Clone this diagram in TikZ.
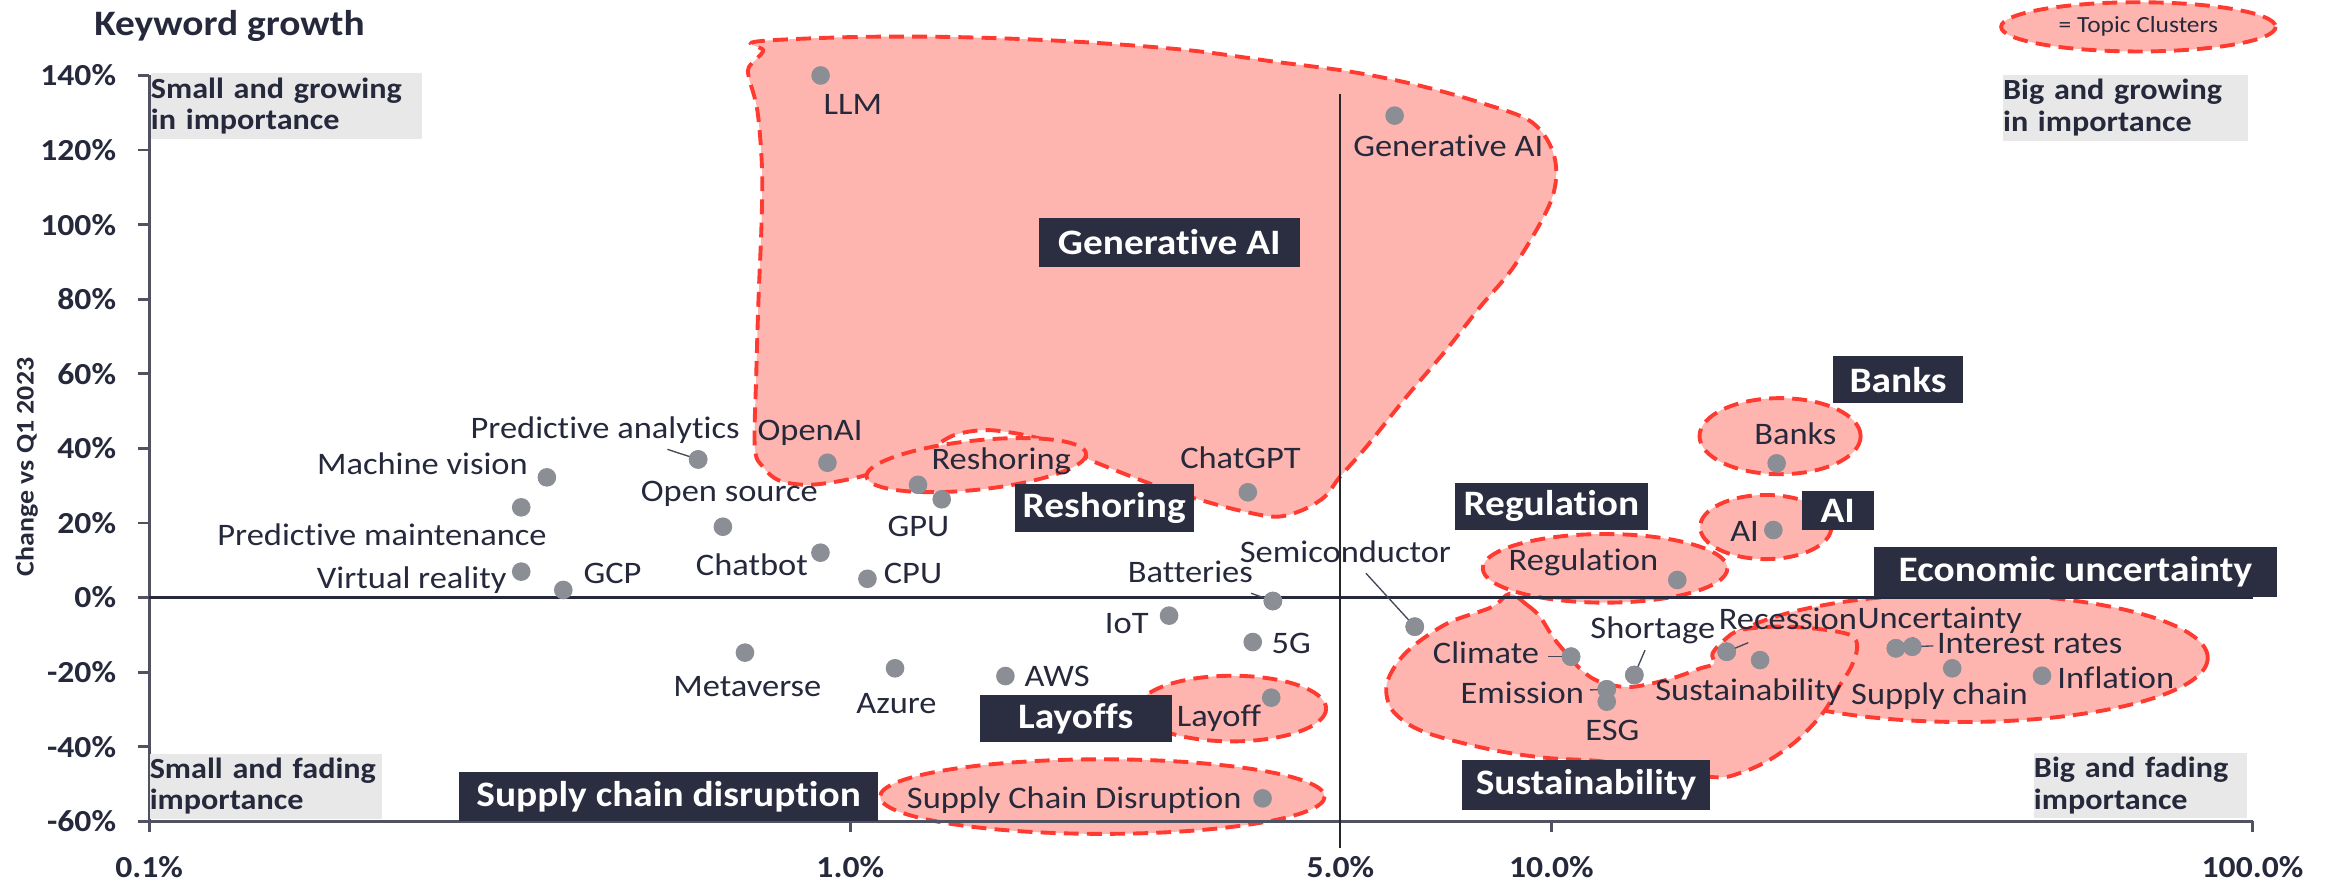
\documentclass[tikz,border=0pt]{standalone}
\usepackage{fontspec}
\setmainfont{Carlito}[FakeStretch=1.1, Ligatures=NoCommon]

\definecolor{ink}{RGB}{38,41,59}
\definecolor{boxnavy}{RGB}{43,46,64}
\definecolor{clusterfill}{RGB}{255,181,175}
\definecolor{clusterline}{RGB}{255,58,48}
\definecolor{dotgray}{RGB}{140,142,150}
\definecolor{quadgray}{RGB}{232,232,232}
\definecolor{axisgray}{RGB}{80,82,98}
\definecolor{leadergray}{RGB}{70,72,88}

\begin{document}
\begin{tikzpicture}[x=1pt,y=-1pt,
  cluster/.style={fill=clusterfill, draw=clusterline, line width=2.6pt,
                  dash pattern=on 10pt off 5.5pt},
  pt/.style={circle, fill=dotgray, inner sep=0pt, minimum size=12.5pt},
  lbl/.style={inner sep=0pt, text=ink, font=\fontsize{21}{25}\selectfont},
  topic/.style={fill=boxnavy, text=white, inner sep=0pt,
                font=\fontsize{24}{28}\selectfont\bfseries},
  quadbox/.style={fill=quadgray, text=ink, inner sep=0pt, align=left,
                  font=\fontsize{19.6}{21.2}\selectfont\bfseries},
  ticklbl/.style={inner sep=0pt, text=ink, font=\fontsize{20.5}{24}\selectfont\bfseries},
  axisline/.style={draw=axisgray, line width=1.8pt},
  leader/.style={draw=leadergray, line width=0.9pt}
]
\useasboundingbox (0,0) rectangle (1568,591);

% ---------- topic clusters ----------
\draw[cluster] plot[smooth cycle, tension=0.55] coordinates {
  (506,28) (565,25) (623,24.6) (680,26) (738.6,29) (800,34) (854,41.3)
  (905,48) (950,57) (993,69) (1027,82) (1042,105) (1040,134) (1016,177)
  (992,206) (969.5,234.6) (942,267) (916,299.5) (898,320) (888,333)
  (873,342) (855,346.4) (830,342) (804,335) (783,328.5) (765,322)
  (742,313) (728,307) (720,301) (701,295) (681,290.5) (660,288.3)
  (640,291.6) (624,300.5) (604,310.6) (581,318.4) (560,323) (540,325)
  (522,322) (511.5,313) (506,300) (507,250) (508.5,200) (510.5,150)
  (510.8,112) (507.7,74) (502,52) (502,45) (507.7,39) (511.6,33.5)};
\draw[cluster, rotate around={6:(654.5,311.8)}] (654.5,311.8) ellipse [x radius=74, y radius=16.5];
\draw[cluster] (826,475) ellipse [x radius=63, y radius=22];
\draw[cluster] (739,534) ellipse [x radius=149, y radius=25];
\draw[cluster] (1193.3,292.4) ellipse [x radius=54, y radius=25.5];
\draw[cluster] (1183.7,353.3) ellipse [x radius=44, y radius=21.5];
\draw[cluster] (1316,441) ellipse [x radius=164, y radius=43];
\draw[cluster] plot[smooth cycle, tension=0.55] coordinates {
  (1012,398) (1023,405) (1032,413) (1041,427) (1050,438) (1059,448)
  (1068,455) (1079,459) (1095,460.4) (1120,455) (1140,448) (1149,445)
  (1148,438) (1156,429) (1167,422.3) (1194,420) (1222,422) (1241,426)
  (1245,434) (1241,447) (1233,460) (1222,478) (1205,496) (1186,509.5)
  (1167,518) (1149,521) (1100,514) (1070,510) (1036,508) (1002,503)
  (965,494) (945,486) (932,474) (930,457) (943,437) (970,418) (1000,407)};
\draw[cluster] (1076,381) ellipse [x radius=82, y radius=23];

% legend
\draw[cluster] (1433.5,18) ellipse [x radius=92, y radius=16.5];
\node[inner sep=0pt, text=ink, font=\fontsize{15.5}{18}\selectfont] (legend) at (1433.5,17.5) {= Topic Clusters};

% ---------- axes ----------
\draw[axisline] (100,50.6) -- (100,557.5);
\draw[axisline] (100,550.6) -- (1510,550.6);
\foreach \xx in {570,1040,1510} \draw[axisline] (\xx,550.6) -- (\xx,557.5);
\draw[draw=ink, line width=1.6pt] (100,400.6) -- (1510,400.6);
\draw[draw=black!85, line width=1.4pt] (898.5,63) -- (898.5,568.5);

\foreach \v [count=\i] in {140,120,100,80,60,40,20,0,-20,-40,-60} {
  \pgfmathsetmacro\yy{400.6-2.5*\v}
  \draw[axisline] (92.5,\yy) -- (100,\yy);
  \node[ticklbl, anchor=east] (yt\i) at (78,\yy) {\v\%};
}
\node[ticklbl] (xt1) at (100,581) {0.1\%};
\node[ticklbl] (xt2) at (570,581) {1.0\%};
\node[ticklbl] (xt3) at (898.5,581) {5.0\%};
\node[ticklbl] (xt4) at (1040,581) {10.0\%};
\node[ticklbl] (xt5) at (1510,581) {100.0\%};

\node[inner sep=0pt, text=ink, rotate=90, font=\fontsize{17}{20}\selectfont\bfseries] (ytitle) at (18,313) {Change vs Q1 2023};
\node[inner sep=0pt, text=ink, anchor=base west, font=\fontsize{24}{28}\selectfont\bfseries] (title) at (63,23.5) {Keyword growth};

% ---------- quadrant captions ----------
\node[quadbox, anchor=north west, text width=182pt, minimum height=44pt] (qsg) at (101,49) {Small and growing\\in importance};
\node[quadbox, anchor=north west, text width=164pt, minimum height=44pt] (qbg) at (1342.6,50) {Big and growing\\in importance};
\node[quadbox, anchor=north west, text width=155.5pt, minimum height=43.5pt] (qsf) at (100.2,505) {Small and fading\\importance};
\node[quadbox, anchor=north west, text width=143pt, minimum height=43.5pt] (qbf) at (1363.3,504.6) {Big and fading\\importance};

% ---------- data points ----------
\node[pt] (llm) at (550.1,50.6) {};
\node[pt] (genai) at (934.9,77.5) {};
\node[pt] (pa) at (468,308) {};
\node[pt] (openai) at (554.7,310.2) {};
\node[pt] (mv) at (366.6,320) {};
\node[pt] (pm) at (349.4,340.1) {};
\node[pt] (vr) at (349.4,383.2) {};
\node[pt] (gcp) at (377.6,395.5) {};
\node[pt] (os) at (484.6,353.1) {};
\node[pt] (chatbot) at (550,370.5) {};
\node[pt] (cpu) at (581.5,388) {};
\node[pt] (resh) at (615.4,325) {};
\node[pt] (gpu) at (631.3,334.7) {};
\node[pt] (chatgpt) at (836.5,330) {};
\node[pt] (bat) at (853.3,402.9) {};
\node[pt] (semi) at (948.4,420.1) {};
\node[pt] (iot) at (783.7,412.7) {};
\node[pt] (fiveg) at (839.8,430.4) {};
\node[pt] (meta) at (499.4,437.5) {};
\node[pt] (azure) at (600,448) {};
\node[pt] (aws) at (674,453.2) {};
\node[pt] (layoff) at (852.2,467.7) {};
\node[pt] (scd) at (846.4,535.2) {};
\node[pt] (reg) at (1124.4,388.8) {};
\node[pt] (clim) at (1053.2,440.2) {};
\node[pt] (emis) at (1077.1,462.1) {};
\node[pt] (esg) at (1077.1,470.4) {};
\node[pt] (short) at (1095.6,452.5) {};
\node[pt] (rec) at (1157.5,436.9) {};
\node[pt] (sust) at (1179.9,442.5) {};
\node[pt] (unc) at (1270.9,434.6) {};
\node[pt] (intr) at (1281.9,433.5) {};
\node[pt] (supc) at (1308.7,448) {};
\node[pt] (infl) at (1368.9,453) {};
\node[pt] (banks) at (1191,310.6) {};
\node[pt] (ai) at (1188.8,355.3) {};

% ---------- leader lines ----------
\coordinate (paL) at (447.4,301.2);
\coordinate (batL) at (838.7,397.7);
\coordinate (semiL) at (915.7,384.3);
\coordinate (climL) at (1038,440.2);
\coordinate (emisL) at (1066,462.5);
\coordinate (shortL) at (1102.8,435.8);
\coordinate (recL) at (1172,430.8);
\coordinate (uncL) at (1283,427.5);
\coordinate (intrL) at (1296,433);
\draw[leader] (paL) -- (pa.center);
\draw[leader] (batL) -- (bat.center);
\draw[leader] (semiL) -- (semi.center);
\draw[leader] (climL) -- (clim.center);
\draw[leader] (emisL) -- (emis.center);
\draw[leader] (shortL) -- (short.center);
\draw[leader] (recL) -- (rec.center);
\draw[leader] (uncL) -- (unc.center);
\draw[leader] (intrL) -- (intr.center);
% dots again over the leader ends
\foreach \d in {pa,bat,semi,clim,emis,short,rec,unc,intr}
  \fill[dotgray] (\d.center) circle[radius=6.25pt];

% ---------- data labels ----------
\node[lbl, anchor=base west] (tllm) at (552,77) {LLM};
\node[lbl, anchor=base west] (tgenai) at (907,104.6) {Generative AI};
\node[lbl, anchor=base east] (tpa) at (496,294) {Predictive analytics};
\node[lbl, anchor=base west] (topenai) at (507.7,295) {OpenAI};
\node[lbl, anchor=base east] (tmv) at (354,318) {Machine vision};
\node[lbl, anchor=base east] (tpm) at (366.6,365.4) {Predictive maintenance};
\node[lbl, anchor=base east] (tvr) at (339.7,394.4) {Virtual reality};
\node[lbl, anchor=base west] (tgcp) at (391,391) {GCP};
\node[lbl, anchor=base west] (tos) at (429.4,336.3) {Open source};
\node[lbl, anchor=base east] (tchatbot) at (541.8,385.5) {Chatbot};
\node[lbl, anchor=base west] (tcpu) at (592.3,391) {CPU};
\node[lbl, anchor=base west] (tresh) at (624.3,315) {Reshoring};
\node[lbl, anchor=base west] (tgpu) at (594.8,359.8) {GPU};
\node[lbl, anchor=base west] (tchatgpt) at (791,314) {ChatGPT};
\node[lbl, anchor=base east] (tbat) at (840,390.6) {Batteries};
\node[lbl, anchor=base west] (tsemi) at (831,377) {Semiconductor};
\node[lbl, anchor=base east] (tiot) at (770.2,424.6) {IoT};
\node[lbl, anchor=base west] (tfiveg) at (852.2,438) {5G};
\node[lbl, anchor=base west] (tmeta) at (451.2,467) {Metaverse};
\node[lbl, anchor=base west] (tazure) at (573.9,478.2) {Azure};
\node[lbl, anchor=base west] (taws) at (686.7,460.3) {AWS};
\node[lbl, anchor=base west] (tlayoff) at (788.7,487.1) {Layoff};
\node[lbl, anchor=base west] (tscd) at (607.8,541.9) {Supply Chain Disruption};
\node[lbl, anchor=base west] (treg) at (1011.2,382.6) {Regulation};
\node[lbl, anchor=base east] (tclim) at (1032,444.7) {Climate};
\node[lbl, anchor=base east] (temis) at (1062,471.5) {Emission};
\node[lbl, anchor=base west] (tesg) at (1062.6,496.1) {ESG};
\node[lbl, anchor=base west] (tshort) at (1066,428) {Shortage};
\node[lbl, anchor=base west] (trec) at (1152,422.3) {Recession};
\node[lbl, anchor=base west] (tsust) at (1109.5,469.3) {Sustainability};
\node[lbl, anchor=base west] (tunc) at (1245,421) {Uncertainty};
\node[lbl, anchor=base west] (tintr) at (1298.3,438) {Interest rates};
\node[lbl, anchor=base west] (tsupc) at (1240.8,472.6) {Supply chain};
\node[lbl, anchor=base west] (tinfl) at (1379,461.4) {Inflation};
\node[lbl, anchor=base west] (tbanks) at (1175.8,297.9) {Banks};
\node[lbl, anchor=base west] (tai) at (1159.7,363.1) {AI};

% ---------- cluster titles ----------
\node[topic, minimum width=175.1pt, minimum height=32.4pt] (bgenai) at (783.9,162.6) {Generative AI};
\node[topic, minimum width=119.8pt, minimum height=31.7pt] (bresh) at (740.2,340.5) {Reshoring};
\node[topic, minimum width=129.1pt, minimum height=31.7pt] (breg) at (1040,339.5) {Regulation};
\node[topic, minimum width=87.5pt, minimum height=31.7pt] (bbanks) at (1272.4,254.6) {Banks};
\node[topic, minimum width=48.5pt, minimum height=26.4pt] (bai) at (1232,342.2) {AI};
\node[topic, minimum width=269.6pt, minimum height=33.5pt] (becon) at (1391.3,383.3) {Economic uncertainty};
\node[topic, minimum width=128.8pt, minimum height=31.3pt] (blayoffs) at (721.1,481.6) {Layoffs};
\node[topic, minimum width=280.8pt, minimum height=33.2pt] (bscd) at (448.2,533.9) {Supply chain disruption};
\node[topic, minimum width=166.5pt, minimum height=33.5pt] (bsust) at (1063.2,526.3) {Sustainability};
\end{tikzpicture}
\end{document}
